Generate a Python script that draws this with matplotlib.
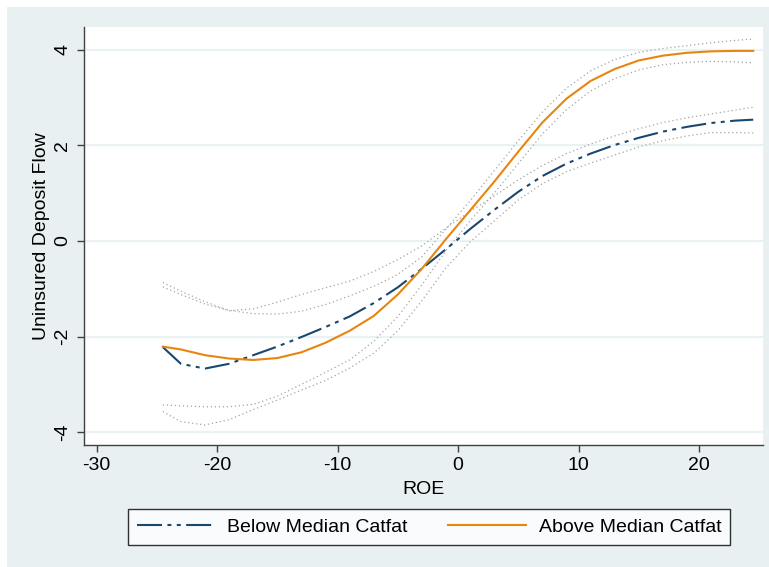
import matplotlib
matplotlib.use("Agg")
import matplotlib.pyplot as plt
from matplotlib.patches import Rectangle

plt.rcParams['font.family'] = ['Liberation Sans', 'DejaVu Sans']
plt.rcParams['axes.unicode_minus'] = False

# ---- data ----
roe = [-24.5, -23, -21, -19, -17, -15, -13, -11, -9, -7, -5, -3, -1,
       1, 3, 5, 7, 9, 11, 13, 15, 17, 19, 21, 23, 24.5]

below_fit = [-2.22, -2.57, -2.67, -2.57, -2.39, -2.21, -2.01, -1.80, -1.58, -1.30, -0.97, -0.58, -0.17,
             0.25, 0.65, 1.03, 1.36, 1.62, 1.83, 2.01, 2.16, 2.29, 2.39, 2.47, 2.52, 2.54]
below_upper = [-0.87, -1.05, -1.27, -1.46, -1.42, -1.28, -1.12, -0.98, -0.84, -0.64, -0.39, -0.10, 0.27,
               0.62, 0.94, 1.28, 1.58, 1.83, 2.03, 2.20, 2.35, 2.48, 2.58, 2.66, 2.74, 2.80]
below_lower = [-3.57, -3.78, -3.85, -3.74, -3.53, -3.33, -3.12, -2.92, -2.66, -2.35, -1.88, -1.25, -0.56,
               -0.02, 0.42, 0.86, 1.20, 1.45, 1.63, 1.80, 1.97, 2.10, 2.20, 2.27, 2.27, 2.26]

above_fit = [-2.21, -2.27, -2.39, -2.46, -2.49, -2.45, -2.33, -2.13, -1.88, -1.57, -1.12, -0.58, 0.04,
             0.64, 1.24, 1.87, 2.48, 2.98, 3.35, 3.60, 3.78, 3.88, 3.94, 3.97, 3.98, 3.98]
above_upper = [-0.96, -1.12, -1.32, -1.45, -1.52, -1.53, -1.47, -1.33, -1.15, -0.95, -0.70, -0.33, 0.25,
               0.84, 1.47, 2.10, 2.70, 3.20, 3.56, 3.80, 3.95, 4.03, 4.09, 4.15, 4.20, 4.23]
above_lower = [-3.43, -3.45, -3.47, -3.47, -3.42, -3.25, -3.00, -2.75, -2.49, -2.10, -1.58, -0.92, -0.20,
               0.42, 1.00, 1.62, 2.24, 2.75, 3.14, 3.40, 3.58, 3.69, 3.74, 3.76, 3.75, 3.73]

x_ticks = [-30, -20, -10, 0, 10, 20]
y_ticks = [-4, -2, 0, 2, 4]
labels = ["Below Median Catfat", "Above Median Catfat"]

NAVY = "#1A476F"
ORANGE = "#E8850E"
BG = "#E9F0F2"
GRID = "#EAF2F3"
DOT = "#A4A4A4"

W, H = 769, 567
fig = plt.figure(figsize=(W / 100, H / 100), dpi=100, facecolor="white")
fig.patches.append(Rectangle((7 / W, 0 / H), (W - 7) / W, (H - 7) / H,
                             transform=fig.transFigure, facecolor=BG,
                             edgecolor="none", zorder=-10))

ax = fig.add_axes([84 / W, 1 - 445 / H, (763 - 84) / W, (445 - 27) / H])
ax.set_facecolor("white")

for v in y_ticks:
    ax.axhline(v, color=GRID, lw=1.6, zorder=0)

dot_style = dict(color=DOT, lw=0.9, linestyle=(0, (1.0, 2.2)), zorder=2)
ax.plot(roe, below_upper, **dot_style)
ax.plot(roe, below_lower, **dot_style)
ax.plot(roe, above_upper, **dot_style)
ax.plot(roe, above_lower, **dot_style)

l1, = ax.plot(roe, below_fit, color=NAVY, lw=1.5,
              linestyle=(0, (12.0, 2.6, 1.9, 2.6, 1.9, 2.6)), zorder=3)
l2, = ax.plot(roe, above_fit, color=ORANGE, lw=1.5, zorder=4)

ax.set_xlim(-31.04, 25.31)
ax.set_ylim(-4.27, 4.48)
ax.set_xticks(x_ticks)
ax.set_yticks(y_ticks)
ax.set_yticklabels([str(v) for v in y_ticks], rotation=90, va="center")

for s in ["top", "right"]:
    ax.spines[s].set_visible(False)
for s in ["left", "bottom"]:
    ax.spines[s].set_color("#404040")
    ax.spines[s].set_linewidth(1.0)

ax.tick_params(axis="both", direction="out", length=5, width=1.0,
               color="#404040", labelsize=14, labelcolor="black", pad=4)

ax.set_xlabel("ROE", fontsize=14, labelpad=5)
ax.set_ylabel("Uninsured Deposit Flow", fontsize=14, labelpad=3)

leg = fig.legend([l1, l2], labels, loc="center", ncol=2,
                 bbox_to_anchor=(429 / W, 1 - 527 / H), fontsize=14,
                 frameon=True, fancybox=False, edgecolor="black",
                 handlelength=4.0, handletextpad=0.65, columnspacing=2.1,
                 borderpad=0.45)
leg.get_frame().set_linewidth(1.0)
leg.get_frame().set_facecolor("white")

fig.savefig("out.png", dpi=100, facecolor=fig.get_facecolor())
